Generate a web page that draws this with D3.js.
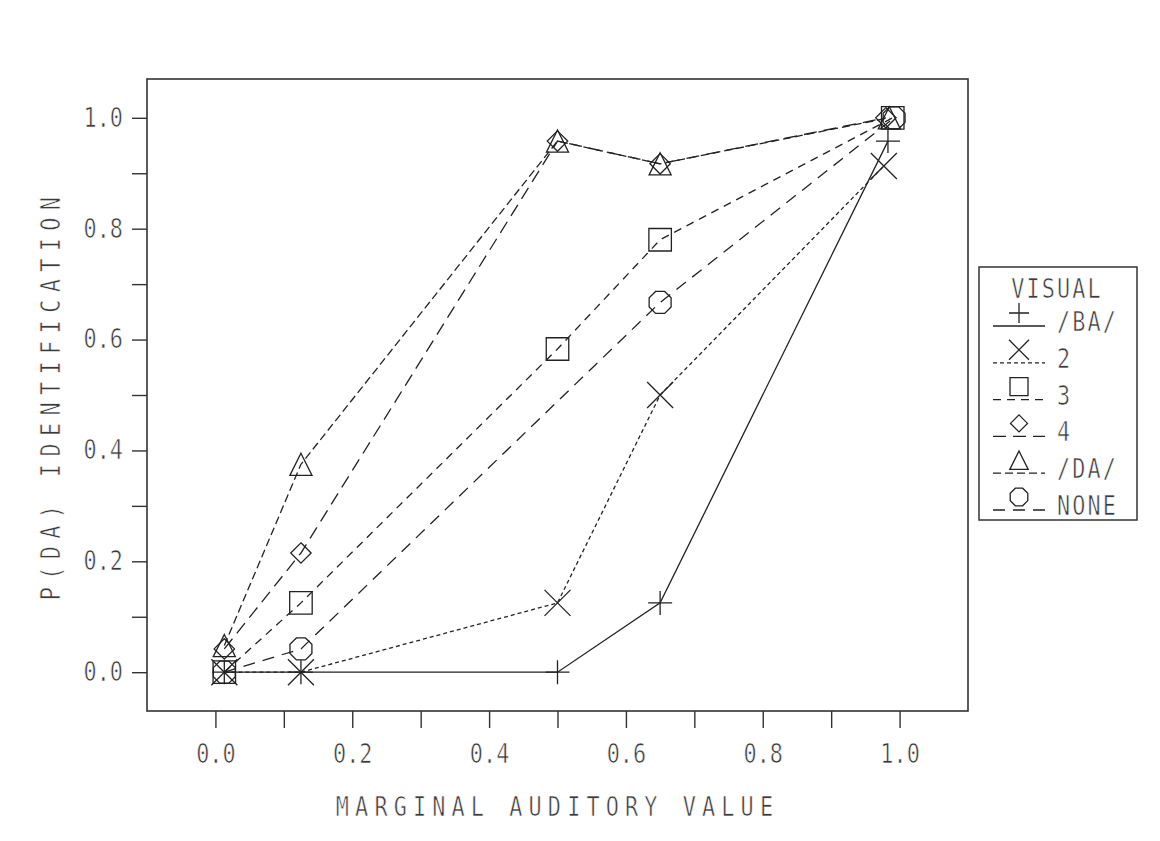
<!DOCTYPE html>
<html><head><meta charset="utf-8">
<script src="https://cdn.jsdelivr.net/npm/d3@7"></script>
<style>
html,body{margin:0;padding:0;background:#fff;}
svg{display:block;}
.t{font-family:"DejaVu Sans Mono",monospace;fill:#3a3a3a;stroke:#fff;stroke-width:0.6px;paint-order:normal;}
</style></head>
<body>
<svg id="c" width="1160" height="841"></svg>
<script>
// ---- data ----
const seriesNames = ["/BA/", "2", "3", "4", "/DA/", "NONE"];
const xBA   = [0.013, 0.125, 0.5, 0.65, 0.983];
const yBA   = [0.0, 0.0, 0.0, 0.125, 0.958];
const x2    = [0.013, 0.125, 0.5, 0.65, 0.977];
const y2    = [0.0, 0.0, 0.125, 0.5, 0.913];
const x3    = [0.013, 0.125, 0.5, 0.65, 0.99];
const y3    = [0.0, 0.125, 0.583, 0.78, 1.0];
const x4    = [0.013, 0.125, 0.5, 0.65, 0.98];
const y4    = [0.042, 0.215, 0.958, 0.917, 1.0];
const xDA   = [0.013, 0.125, 0.5, 0.65, 0.985];
const yDA   = [0.048, 0.375, 0.958, 0.917, 1.0];
const xNONE = [0.013, 0.125, 0.65, 0.992];
const yNONE = [0.0, 0.042, 0.667, 1.0];
const xTicks = [0.0, 0.1, 0.2, 0.3, 0.4, 0.5, 0.6, 0.7, 0.8, 0.9, 1.0];
const yTicks = [0.0, 0.1, 0.2, 0.3, 0.4, 0.5, 0.6, 0.7, 0.8, 0.9, 1.0];
const xTickLabels = ["0.0", "", "0.2", "", "0.4", "", "0.6", "", "0.8", "", "1.0"];
const yTickLabels = ["0.0", "", "0.2", "", "0.4", "", "0.6", "", "0.8", "", "1.0"];
const xTitle = "MARGINAL AUDITORY VALUE";
const yTitle = "P(DA) IDENTIFICATION";
const legendTitle = "VISUAL";

// ---- styles ----
const xsArr = [xBA, x2, x3, x4, xDA, xNONE];
const ysArr = [yBA, y2, y3, y4, yDA, yNONE];
const symbols = ["plus", "cross", "square", "diamond", "triangle", "octagon"];
const dashes = [null, "4,3", "8,6", "13,7", "8,4", "12,8"];
const ink = "#222";
const FS = 26, SX = 0.84;

const svg = d3.select("#c");
const L = 147, R = 968, T = 79, B = 711;
const x = d3.scaleLinear().domain([-0.1, 1.1]).range([L, R]);
const y = d3.scaleLinear().domain([-0.07, 1.07]).range([B, T]);

function symPath(type, s) {
  const h = s / 2;
  switch (type) {
    case "plus": return `M${-h},0L${h},0M0,${-h}L0,${h}`;
    case "cross": return `M${-h},${-h}L${h},${h}M${-h},${h}L${h},${-h}`;
    case "square": { const a = h * 0.9; return `M${-a},${-a}H${a}V${a}H${-a}Z`; }
    case "diamond": { const a = h * 0.85; return `M0,${-a}L${a},0L0,${a}L${-a},0Z`; }
    case "triangle": { const a = h * 0.92; return `M0,${-a}L${a},${a}H${-a}Z`; }
    case "octagon": {
      const r = h * 0.95; let p = "";
      for (let i = 0; i < 8; i++) {
        const ang = Math.PI / 8 + i * Math.PI / 4;
        p += (i ? "L" : "M") + (r * Math.cos(ang)).toFixed(2) + "," + (r * Math.sin(ang)).toFixed(2);
      }
      return p + "Z";
    }
  }
}
const symSize = [24, 26, 25, 24, 24, 25];

// helper: narrow tall text
function label(g, tx, ty, str, anchor, ls, rot) {
  return g.append("text").attr("class", "t")
    .attr("transform", `translate(${tx},${ty})` + (rot ? ` rotate(${rot})` : "") + ` scale(${SX},1)`)
    .attr("text-anchor", anchor).attr("font-size", FS).attr("letter-spacing", ls || 0).text(str);
}

// frame
svg.append("rect").attr("x", L).attr("y", T).attr("width", R - L).attr("height", B - T)
  .attr("fill", "none").attr("stroke", "#333").attr("stroke-width", 1.6);

// axes
const yAxis = d3.axisLeft(y).tickValues(yTicks).tickSize(15).tickPadding(9)
  .tickFormat((d, i) => yTickLabels[i]);
const gy = svg.append("g").attr("transform", `translate(${L},0)`).call(yAxis);
const xAxis = d3.axisBottom(x).tickValues(xTicks).tickSize(17).tickPadding(17)
  .tickFormat((d, i) => xTickLabels[i]);
const gx = svg.append("g").attr("transform", `translate(0,${B})`).call(xAxis);
[gx, gy].forEach(g => {
  g.select(".domain").remove();
  g.selectAll(".tick line").attr("stroke", "#333").attr("stroke-width", 1.4);
});
gy.selectAll(".tick text").each(function () {
  const t = d3.select(this);
  t.attr("class", "t").attr("font-size", FS).style("font-family", '"DejaVu Sans Mono",monospace')
    .attr("transform", `translate(-24,0) scale(${SX},1)`).attr("x", 0);
});
gx.selectAll(".tick text").each(function () {
  const t = d3.select(this);
  t.attr("class", "t").attr("font-size", FS).style("font-family", '"DejaVu Sans Mono",monospace')
    .attr("transform", `scale(${SX},1)`);
});

// titles
label(svg, (L + R) / 2, 816, xTitle, "middle", 7.3);
label(svg, 60, (T + B) / 2, yTitle, "middle", 8.8, -90);

// series lines
const line = d3.line().x(d => x(d[0])).y(d => y(d[1]));
seriesNames.forEach((name, si) => {
  const pts = xsArr[si].map((v, i) => [v, ysArr[si][i]]);
  svg.append("path").datum(pts).attr("d", line).attr("fill", "none")
    .attr("stroke", ink).attr("stroke-width", 1.3)
    .attr("stroke-dasharray", dashes[si]);
});
// markers
seriesNames.forEach((name, si) => {
  const pts = xsArr[si].map((v, i) => [v, ysArr[si][i]]);
  svg.append("g").selectAll("path").data(pts).join("path")
    .attr("transform", d => `translate(${x(d[0])},${y(d[1])})`)
    .attr("d", symPath(symbols[si], symSize[si]))
    .attr("fill", "none").attr("stroke", ink).attr("stroke-width", 1.3);
});

// legend
const lg = svg.append("g");
lg.append("rect").attr("x", 979).attr("y", 267).attr("width", 158).attr("height", 253)
  .attr("fill", "#fff").attr("stroke", "#333").attr("stroke-width", 1.5);
label(lg, 1057, 298, legendTitle, "middle", 2.5);
const rowY = d3.scaleLinear().domain([0, 5]).range([326, 510]);
seriesNames.forEach((name, si) => {
  const ly = rowY(si);
  lg.append("line").attr("x1", 993).attr("x2", 1045).attr("y1", ly).attr("y2", ly)
    .attr("stroke", ink).attr("stroke-width", 1.3).attr("stroke-dasharray", dashes[si]);
  lg.append("path").attr("transform", `translate(1019,${ly - 13})`)
    .attr("d", symPath(symbols[si], 20)).attr("fill", "none")
    .attr("stroke", ink).attr("stroke-width", 1.3);
  label(lg, 1057, ly + 5, name, "start", 2.5);
});
</script>
</body></html>
